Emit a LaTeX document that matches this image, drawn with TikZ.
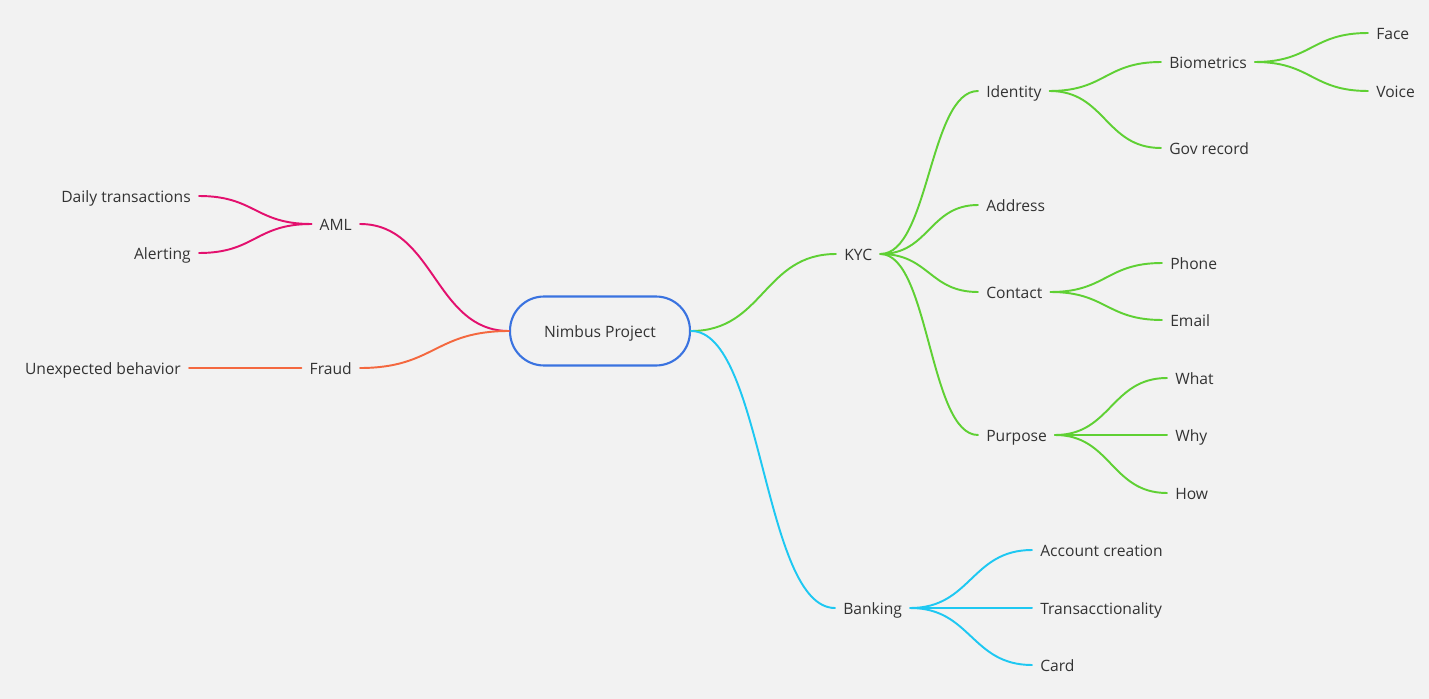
\documentclass[tikz,border=0pt]{standalone}
\usepackage{fontspec}
\setmainfont{Open Sans}
\usetikzlibrary{calc}
\definecolor{bgc}{HTML}{F2F2F2}
\definecolor{txtc}{HTML}{333333}
\definecolor{rootc}{HTML}{3A73E0}
\definecolor{kycc}{HTML}{5FD034}
\definecolor{bankc}{HTML}{1EC8F2}
\definecolor{amlc}{HTML}{E3106E}
\definecolor{fraudc}{HTML}{F4683F}
\begin{document}
\begin{tikzpicture}[x=0.02cm,y=-0.02cm,
    topic/.style={inner sep=4.5pt, text height=1.6ex, text depth=.3ex, text=txtc, font=\fontsize{8.9}{11}\selectfont},
    root/.style={topic, draw=rootc, line width=1.2pt, rounded corners=0.68cm, minimum width=3.6cm, minimum height=1.38cm},
    branch/.style={line width=1.1pt, line cap=round},
    sbend/.style={to path={let \p1=(\tikztostart), \p2=(\tikztotarget) in
        .. controls ({0.5*\x1+0.5*\x2},\y1) and ({0.5*\x1+0.5*\x2},\y2) .. (\tikztotarget) \tikztonodes}}]
    \fill [bgc] (0,0) rectangle (1429,699);
    \useasboundingbox (0,0) rectangle (1429,699);

    \node (root) [root] at (600,331) {Nimbus Project};

    % left side
    \node (aml) [topic, anchor=east] at (360,224) {AML};
    \node (fraud) [topic, anchor=east] at (360,368) {Fraud};
    \node (daily) [topic, anchor=east] at (199,196) {Daily transactions};
    \node (alerting) [topic, anchor=east] at (199,253) {Alerting};
    \node (unexpected) [topic, anchor=east] at (189,368) {Unexpected behavior};

    % right side
    \node (kyc) [topic, anchor=west] at (836,254) {KYC};
    \node (banking) [topic, anchor=west] at (835,608) {Banking};

    \node (identity) [topic, anchor=west] at (978,91) {Identity};
    \node (address) [topic, anchor=west] at (978,205) {Address};
    \node (contact) [topic, anchor=west] at (978,292) {Contact};
    \node (purpose) [topic, anchor=west] at (978,435) {Purpose};

    \node (biometrics) [topic, anchor=west] at (1161,62) {Biometrics};
    \node (govrecord) [topic, anchor=west] at (1161,148) {Gov record};
    \node (face) [topic, anchor=west] at (1368,33) {Face};
    \node (voice) [topic, anchor=west] at (1368,91) {Voice};

    \node (phone) [topic, anchor=west] at (1162,263) {Phone};
    \node (email) [topic, anchor=west] at (1162,320) {Email};

    \node (what) [topic, anchor=west] at (1167,378) {What};
    \node (why) [topic, anchor=west] at (1167,435) {Why};
    \node (how) [topic, anchor=west] at (1167,493) {How};

    \node (account) [topic, anchor=west] at (1032,550) {Account creation};
    \node (transact) [topic, anchor=west] at (1032,608) {Transacctionality};
    \node (card) [topic, anchor=west] at (1032,665) {Card};

    \path [branch, draw=amlc]
        (root.west) edge [sbend] (aml.east)
        (aml.west) edge [sbend] (daily.east)
        (aml.west) edge [sbend] (alerting.east)
    ;
    \path [branch, draw=fraudc]
        (root.west) edge [sbend] (fraud.east)
        (fraud.west) edge (unexpected.east)
    ;
    \path [branch, draw=kycc]
        (root.east) edge [sbend] (kyc.west)
        (kyc.east) edge [sbend] (identity.west)
        (kyc.east) edge [sbend] (address.west)
        (kyc.east) edge [sbend] (contact.west)
        (kyc.east) edge [sbend] (purpose.west)
        (identity.east) edge [sbend] (biometrics.west)
        (identity.east) edge [sbend] (govrecord.west)
        (biometrics.east) edge [sbend] (face.west)
        (biometrics.east) edge [sbend] (voice.west)
        (contact.east) edge [sbend] (phone.west)
        (contact.east) edge [sbend] (email.west)
        (purpose.east) edge [sbend] (what.west)
        (purpose.east) edge (why.west)
        (purpose.east) edge [sbend] (how.west)
    ;
    \path [branch, draw=bankc]
        (root.east) edge [sbend] (banking.west)
        (banking.east) edge [sbend] (account.west)
        (banking.east) edge (transact.west)
        (banking.east) edge [sbend] (card.west)
    ;
\end{tikzpicture}
\end{document}
